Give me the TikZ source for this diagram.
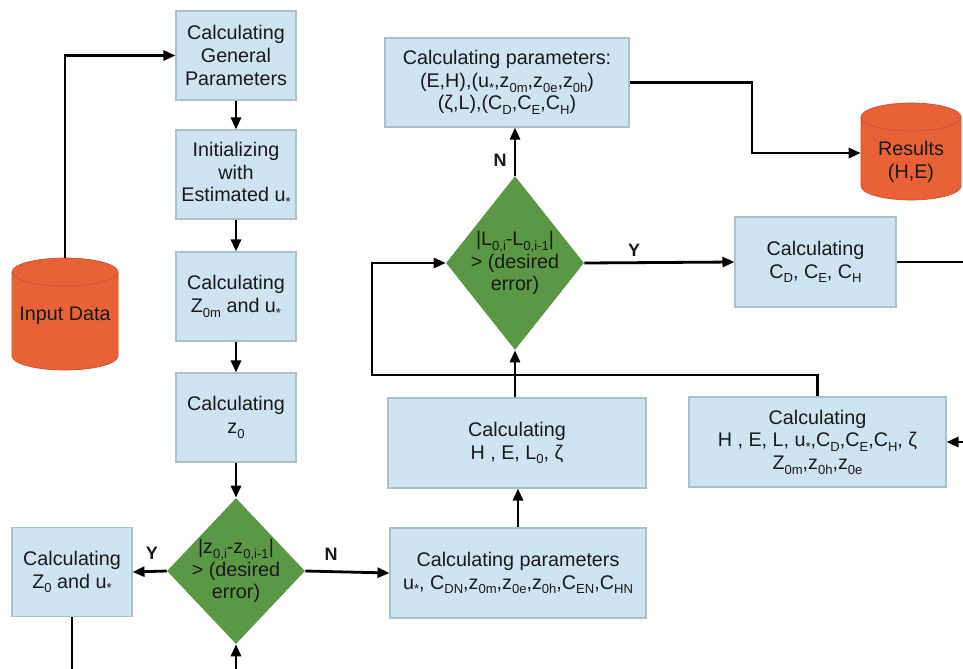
\documentclass[tikz,border=0pt]{standalone}
\usepackage{fontspec}
\setmainfont{Liberation Sans}
\usetikzlibrary{shapes.geometric,arrows.meta}
\definecolor{boxfill}{RGB}{206,228,241}
\definecolor{boxline}{RGB}{172,192,204}
\definecolor{dgreen}{RGB}{90,152,70}
\definecolor{corange}{RGB}{233,98,55}
\definecolor{corline}{RGB}{200,80,45}
\definecolor{txt}{RGB}{25,25,25}
\tikzset{
  box/.style={draw=boxline, line width=0.8pt, fill=boxfill, align=center, inner sep=2pt,
    font=\fontsize{14.8}{17}\selectfont, text=txt},
  dia/.style={diamond, fill=dgreen, inner sep=0pt},
  diatext/.style={align=center, font=\fontsize{14.8}{17}\selectfont, text=txt, inner sep=0pt},
  cyltext/.style={align=center, font=\fontsize{14.8}{17}\selectfont, text=txt, inner sep=0pt},
  arr/.style={line width=2.1pt, -{Triangle[length=9pt,width=7.5pt]}, draw=black},
  yn/.style={font=\fontsize{13.5}{15}\selectfont\bfseries, text=txt, inner sep=0pt}
}
\newcommand{\sbs}[1]{\raisebox{-3.6pt}{\fontsize{9.8}{10}\selectfont #1}}
\begin{document}
\begin{tikzpicture}[x=0.75pt,y=-0.75pt]
\useasboundingbox (0,0) rectangle (963,668);

% cylinders
\fill[corange, draw=corline, line width=0.5pt] (12,272) -- (12,356) arc[start angle=180, end angle=360, x radius=39.75pt, y radius=10.5pt] -- (118,272) arc[start angle=0, end angle=180, x radius=39.75pt, y radius=10.5pt] -- cycle;
\draw[corline, line width=0.5pt] (12,272) arc[start angle=180, end angle=360, x radius=39.75pt, y radius=10.5pt];
\node[minimum width=79.5pt, minimum height=84pt, inner sep=0pt] (inp) at (65,314) {};
\node[cyltext] (inpt) at (65,316) {Input Data};

\fill[corange, draw=corline, line width=0.5pt] (861,117) -- (861,186) arc[start angle=180, end angle=360, x radius=37.5pt, y radius=10.5pt] -- (961,117) arc[start angle=0, end angle=180, x radius=37.5pt, y radius=10.5pt] -- cycle;
\draw[corline, line width=0.5pt] (861,117) arc[start angle=180, end angle=360, x radius=37.5pt, y radius=10.5pt];
\node[minimum width=75pt, minimum height=50pt, inner sep=0pt] (res) at (911,153) {};
\node[cyltext] (rest) at (911,162) {Results\\(H,E)};

% left column
\node[box, minimum width=90pt, minimum height=66.75pt] (gen) at (236,55.5) {Calculating\\General\\Parameters};
\node[box, minimum width=90pt, minimum height=66.75pt] (init) at (236,174.5) {Initializing\\with\\Estimated u\sbs{*}};
\node[box, minimum width=90pt, minimum height=66.75pt] (z0m) at (236,296.5) {Calculating\\Z\sbs{0m} and u\sbs{*}};
\node[box, minimum width=90pt, minimum height=66.75pt] (z0) at (236,417.5) {Calculating\\z\sbs{0}};
\node[box, minimum width=90pt, minimum height=66.75pt] (z0u) at (72,572) {Calculating\\Z\sbs{0} and u\sbs{*}};

\node[dia, minimum width=103.5pt, minimum height=109.5pt] (dz) at (236,571) {};
\node[diatext] (dzt) at (236,571) {|z\sbs{0,i}-z\sbs{0,i-1}|\\> (desired\\error)};

% middle
\node[box, minimum width=192pt, minimum height=67.5pt] (par) at (518,573) {Calculating parameters\\u\sbs{*}, C\sbs{DN},z\sbs{0m},z\sbs{0e},z\sbs{0h},C\sbs{EN},C\sbs{HN}};
\node[box, minimum width=193.5pt, minimum height=67.5pt] (hel0) at (517,443) {Calculating\\H , E, L\sbs{0}, ζ};
\node[dia, minimum width=103.5pt, minimum height=130.5pt] (dL) at (515,263) {};
\node[diatext] (dLt) at (515,263) {|L\sbs{0,i}-L\sbs{0,i-1}|\\> (desired\\error)};
\node[box, minimum width=183pt, minimum height=66.75pt] (top) at (507,82.5) {Calculating parameters:\\(E,H),(u\sbs{*},z\sbs{0m},z\sbs{0e},z\sbs{0h})\\(ζ,L),(C\sbs{D},C\sbs{E},C\sbs{H})};

% right
\node[box, minimum width=120.75pt, minimum height=67.5pt] (cd) at (815.5,262) {Calculating\\C\sbs{D}, C\sbs{E}, C\sbs{H}};
\node[box, minimum width=192.75pt, minimum height=67.5pt] (hel) at (817.5,442) {Calculating\\H , E, L, u\sbs{*},C\sbs{D},C\sbs{E},C\sbs{H}, ζ\\Z\sbs{0m},z\sbs{0h},z\sbs{0e}};

% connectors
\draw[arr] (inp.north) |- (gen.west);
\draw[arr] (gen.south) -- (init.north);
\draw[arr] (init.south) -- (z0m.north);
\draw[arr] (z0m.south) -- (z0.north);
\draw[arr] (z0.south) -- (dz.north);
\draw[arr] (dz.west) -- (z0u.east);
\node[yn] (ylab1) at (152,553) {Y};
\draw[arr] (dz.east) -- (par.west);
\node[yn] (nlab1) at (331,554) {N};
\coordinate (lowz) at (72,675);
\draw[arr] (z0u.south) -- (lowz) -| (dz.south);
\draw[arr] (par.north) -- (par.north |- hel0.south);
\draw[arr] (hel0.north -| dL.south) -- (dL.south);
\coordinate (fb) at (372,375);
\draw[arr] (hel.north) |- (fb) |- (dL.west);
\draw[arr] (dL.east) -- (cd.west);
\node[yn] (ylab2) at (634,250) {Y};
\coordinate (rgt) at (976,262);
\draw[arr] (cd.east) -- (rgt) |- (hel.east);
\draw[arr] (dL.north) -- (dL.north |- top.south);
\node[yn] (nlab2) at (500,160) {N};
\coordinate (bend) at (752,82.5);
\draw[arr] (top.east) -- (bend) |- (res.west);
\end{tikzpicture}
\end{document}
